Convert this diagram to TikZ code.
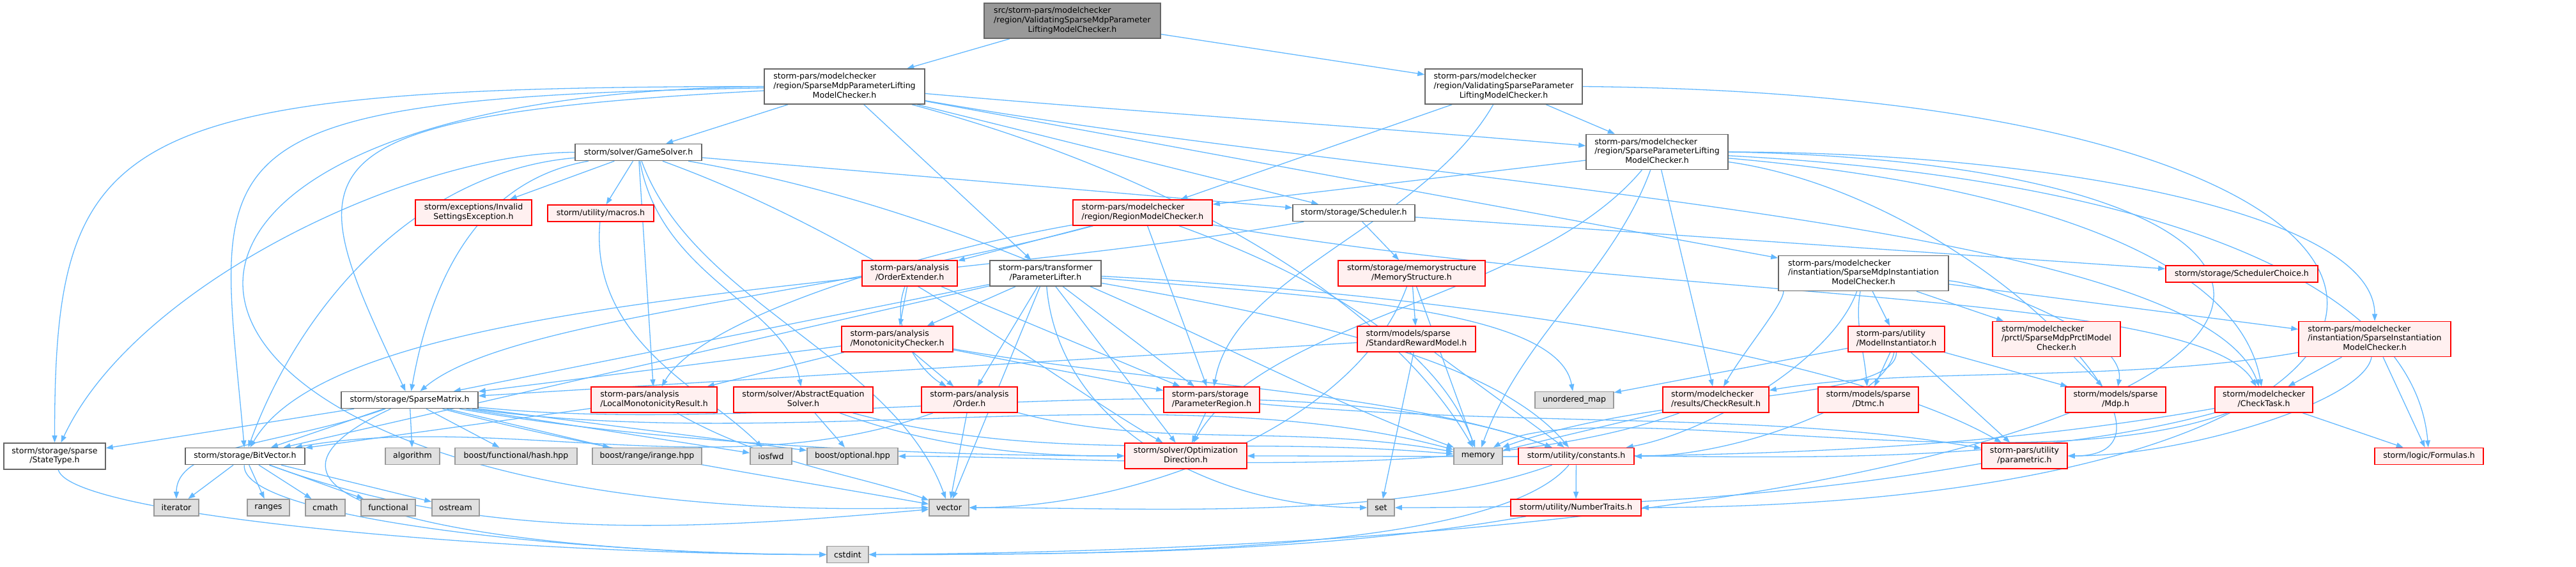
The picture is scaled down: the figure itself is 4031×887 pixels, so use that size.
\documentclass[tikz,border=0pt]{standalone}
\usepackage{fontspec}
\setmainfont{DejaVu Sans}
\usetikzlibrary{arrows.meta,backgrounds}
\definecolor{eblue}{HTML}{63B8FF}
\definecolor{ngray}{HTML}{666666}
\definecolor{sgray}{HTML}{999999}
\definecolor{sfill}{HTML}{E0E0E0}
\definecolor{rfill}{HTML}{FFF0F0}
\definecolor{rootfill}{HTML}{999999}
\newcommand{\lab}[2]{\begin{tabular}{@{}l@{}}#1\\\multicolumn{1}{@{}c@{}}{#2}\end{tabular}}
\renewcommand{\arraystretch}{1}
\tikzset{
  base/.style={rectangle, inner sep=0pt, line width=1.6bp, align=center, text=black},
  wnode/.style={base, draw=ngray, fill=white},
  rnode/.style={base, draw=red, fill=rfill},
  snode/.style={base, draw=sgray, fill=sfill},
  rootnode/.style={base, draw=ngray, fill=rootfill},
  edge/.style={draw=eblue, line width=1.3bp, -{Triangle[length=11bp,width=8bp]}}
}
\newcommand{\nd}[6]{\node[#1, minimum width=#4bp, minimum height=#5bp] (#2) at (#3) {#6};}
\newcommand{\st}[2]{\draw[edge] (#1) -- (#2);}
\newcommand{\cv}[6]{\draw[edge] (#1) .. controls +(#2:#3) and +(#5:#6) .. (#4);}
\begin{document}
\begin{tikzpicture}[x=1bp,y=1bp,font=\fontsize{12.6}{15}\selectfont]
\useasboundingbox (0,0) rectangle (4031,-887);
% nodes
\nd{rootnode}{root}{1678,-32.5}{276}{55}{\lab{src/storm-pars/modelchecker\\/region/ValidatingSparseMdpParameter}{LiftingModelChecker.h}}
\nd{wnode}{A}{1321.5,-135.5}{251}{55}{\lab{storm-pars/modelchecker\\/region/SparseMdpParameterLifting}{ModelChecker.h}}
\nd{wnode}{B}{2353,-135.5}{246}{55}{\lab{storm-pars/modelchecker\\/region/ValidatingSparseParameter}{LiftingModelChecker.h}}
\nd{wnode}{C}{2593,-238}{222}{55}{\lab{storm-pars/modelchecker\\/region/SparseParameterLifting}{ModelChecker.h}}
\nd{wnode}{GS}{999,-238.5}{198}{26}{storm/solver/GameSolver.h}
\nd{rnode}{ISE}{741,-333}{182}{40}{\lab{storm/exceptions/Invalid}{SettingsException.h}}
\nd{rnode}{MAC}{940,-334}{166}{26}{storm/utility/macros.h}
\nd{rnode}{RMC}{1788,-333}{218}{40}{\lab{storm-pars/modelchecker}{/region/RegionModelChecker.h}}
\nd{wnode}{SCH}{2118.5,-333.5}{191}{26}{storm/storage/Scheduler.h}
\nd{wnode}{SMIMC}{2916,-428}{266}{55}{\lab{storm-pars/modelchecker\\/instantiation/SparseMdpInstantiation}{ModelChecker.h}}
\nd{rnode}{SC}{3508,-429}{238}{26}{storm/storage/SchedulerChoice.h}
\nd{rnode}{OE}{1423.5,-428}{149}{40}{\lab{storm-pars/analysis}{/OrderExtender.h}}
\nd{wnode}{PL}{1636,-428}{174}{40}{\lab{storm-pars/transformer}{/ParameterLifter.h}}
\nd{rnode}{MS}{2209,-428}{230}{40}{\lab{storm/storage/memorystructure}{/MemoryStructure.h}}
\nd{rnode}{MC}{1404,-531}{174}{40}{\lab{storm-pars/analysis}{/MonotonicityChecker.h}}
\nd{rnode}{SRM}{2216.5,-531}{185}{40}{\lab{storm/models/sparse}{/StandardRewardModel.h}}
\nd{rnode}{MI}{2967.5,-531}{151}{40}{\lab{storm-pars/utility}{/ModelInstantiator.h}}
\nd{rnode}{SMPMC}{3218,-531}{200}{55}{\lab{storm/modelchecker\\/prctl/SparseMdpPrctlModel}{Checker.h}}
\nd{rnode}{SIMC}{3716,-531}{238}{55}{\lab{storm-pars/modelchecker\\/instantiation/SparseInstantiation}{ModelChecker.h}}
\nd{wnode}{SM}{641,-626.5}{214}{26}{storm/storage/SparseMatrix.h}
\nd{rnode}{LMR}{1023.5,-626}{197}{40}{\lab{storm-pars/analysis}{/LocalMonotonicityResult.h}}
\nd{rnode}{AES}{1257,-626}{218}{40}{\lab{storm/solver/AbstractEquation}{Solver.h}}
\nd{rnode}{ORD}{1517,-626}{150}{40}{\lab{storm-pars/analysis}{/Order.h}}
\nd{rnode}{PR}{1896,-626}{150}{40}{\lab{storm-pars/storage}{/ParameterRegion.h}}
\nd{snode}{UM}{2463.5,-626.5}{123}{26}{unordered\_map}
\nd{rnode}{CR}{2685,-626}{166}{40}{\lab{storm/modelchecker}{/results/CheckResult.h}}
\nd{rnode}{DTMC}{2923.5,-626}{157}{40}{\lab{storm/models/sparse}{/Dtmc.h}}
\nd{rnode}{MDP}{3310.5,-626}{157}{40}{\lab{storm/models/sparse}{/Mdp.h}}
\nd{rnode}{CT}{3542.5,-626}{153}{40}{\lab{storm/modelchecker}{/CheckTask.h}}
\nd{wnode}{ST}{85.5,-714.5}{159}{41}{\lab{storm/storage/sparse}{/StateType.h}}
\nd{wnode}{BV}{383.5,-714.5}{187}{26}{storm/storage/BitVector.h}
\nd{snode}{ALG}{645.5,-714.5}{85}{26}{algorithm}
\nd{snode}{HASH}{807.5,-714.5}{191}{26}{boost/functional/hash.hpp}
\nd{snode}{IRANGE}{1012.5,-714.5}{171}{26}{boost/range/irange.hpp}
\nd{snode}{IOSFWD}{1206.5,-714.5}{65}{26}{iosfwd}
\nd{snode}{OPT}{1334,-714.5}{142}{26}{boost/optional.hpp}
\nd{rnode}{OD}{1855.5,-714}{191}{40}{\lab{storm/solver/Optimization}{Direction.h}}
\nd{snode}{MEM}{2313,-714.5}{76}{26}{memory}
\nd{rnode}{CONST}{2466.5,-714.5}{181}{26}{storm/utility/constants.h}
\nd{rnode}{PARAM}{3168,-714}{134}{40}{\lab{storm-pars/utility}{/parametric.h}}
\nd{rnode}{FORM}{3801,-714.5}{170}{26}{storm/logic/Formulas.h}
\nd{snode}{ITER}{276,-795}{70}{26}{iterator}
\nd{snode}{RANGES}{420,-795}{66}{26}{ranges}
\nd{snode}{CMATH}{509,-795}{62}{26}{cmath}
\nd{snode}{FUNC}{607.5,-795}{85}{26}{functional}
\nd{snode}{OSTREAM}{713,-795}{74}{26}{ostream}
\nd{snode}{VEC}{1485,-795}{62}{26}{vector}
\nd{snode}{SET}{2161,-795}{42}{26}{set}
\nd{rnode}{NT}{2466,-795}{204}{26}{storm/utility/NumberTraits.h}
\nd{snode}{CSTDINT}{1326.5,-868.5}{65}{26}{cstdint}
% edges
\begin{scope}[on background layer]
\st{root}{A}
\st{root}{B}
\st{A}{GS}
\st{A}{PL}
\st{A}{SCH}
\st{A}{SMIMC}
\cv{A}{-5}{450}{C}{175}{450}
\cv{A}{180}{1150}{ST}{90}{510}
\cv{A}{181}{1050}{BV}{95}{480}
\cv{A}{183}{900}{SM}{115}{400}
\draw[edge] (A.west) .. controls (0,-150) and (150,-830) .. (VEC.west);
\cv{A}{-15}{500}{MEM}{120}{300}
\cv{A}{-10}{900}{CT}{110}{300}
\st{B}{RMC}
\st{B}{C}
\cv{B}{-120}{250}{PR}{80}{200}
\draw[edge] (B.east) .. controls (4025,-150) and (4000,-790) .. (NT.east);
\st{C}{RMC}
\st{C}{CR}
\cv{C}{-130}{300}{OD}{60}{250}
\cv{C}{-5}{500}{CT}{100}{250}
\cv{C}{-3}{700}{FORM}{95}{300}
\cv{C}{-8}{500}{PARAM}{0}{300}
\cv{C}{0}{600}{SIMC}{90}{200}
\cv{C}{-110}{200}{MEM}{70}{200}
\draw[edge] (C.east) .. controls (3930,-260) and (3800,-850) .. (CSTDINT.east);
\st{GS}{ISE}
\st{GS}{MAC}
\st{GS}{SCH}
\st{GS}{LMR}
\cv{GS}{180}{350}{ST}{65}{300}
\cv{GS}{185}{350}{BV}{70}{250}
\cv{GS}{190}{250}{SM}{80}{200}
\cv{GS}{-80}{200}{AES}{100}{150}
\cv{GS}{-20}{400}{OD}{150}{250}
\cv{GS}{-70}{250}{VEC}{110}{250}
\cv{GS}{-10}{600}{MEM}{160}{400}
\cv{MAC}{-95}{200}{IOSFWD}{135}{150}
\st{RMC}{OE}
\st{RMC}{PR}
\cv{RMC}{190}{350}{LMR}{60}{150}
\cv{RMC}{195}{500}{SM}{40}{200}
\cv{RMC}{-10}{800}{CT}{120}{200}
\cv{RMC}{-20}{250}{MEM}{110}{200}
\st{SCH}{MS}
\st{SCH}{SC}
\cv{SCH}{190}{700}{BV}{60}{300}
\st{OE}{MC}
\st{OE}{PR}
\cv{OE}{-110}{100}{ORD}{150}{80}
\st{PL}{MC}
\st{PL}{ORD}
\st{PL}{VEC}
\st{PL}{OD}
\st{PL}{PR}
\st{PL}{SM}
\st{PL}{BV}
\cv{PL}{-5}{400}{UM}{100}{150}
\cv{PL}{-3}{700}{PARAM}{150}{300}
\cv{PL}{-10}{400}{CONST}{130}{200}
\cv{PL}{-85}{250}{SET}{180}{250}
\st{MC}{ORD}
\st{MC}{LMR}
\st{MC}{PR}
\st{MC}{SM}
\cv{MC}{-10}{400}{CONST}{160}{300}
\st{MS}{SRM}
\st{MS}{MEM}
\cv{MS}{-110}{250}{VEC}{0}{300}
\st{SRM}{SET}
\st{SRM}{CONST}
\st{SRM}{SM}
\st{SMIMC}{MI}
\st{SMIMC}{SMPMC}
\st{SMIMC}{SIMC}
\cv{SMIMC}{-5}{200}{MDP}{80}{100}
\cv{SMIMC}{-100}{80}{DTMC}{95}{80}
\cv{SMIMC}{190}{100}{CR}{60}{100}
\cv{SMIMC}{-110}{150}{CONST}{10}{200}
\st{MI}{DTMC}
\st{MI}{MDP}
\st{MI}{PARAM}
\st{MI}{UM}
\cv{MI}{-100}{100}{CONST}{0}{250}
\cv{MI}{-90}{100}{MEM}{20}{300}
\st{SMPMC}{MDP}
\st{SIMC}{CT}
\st{SIMC}{FORM}
\cv{SIMC}{-100}{100}{PARAM}{0}{250}
\cv{SIMC}{190}{400}{CR}{10}{300}
\st{CT}{FORM}
\cv{CT}{190}{600}{OD}{0}{600}
\cv{CT}{195}{400}{CONST}{0}{300}
\cv{CT}{200}{400}{MEM}{30}{200}
\st{CR}{MEM}
\cv{CR}{200}{400}{OPT}{0}{400}
\cv{PARAM}{190}{400}{SET}{0}{300}
\st{PR}{OD}
\cv{PR}{-5}{500}{PARAM}{170}{400}
\st{ORD}{VEC}
\cv{ORD}{-15}{300}{MEM}{170}{300}
\cv{ORD}{200}{400}{BV}{10}{400}
\st{LMR}{BV}
\cv{LMR}{-30}{200}{VEC}{160}{150}
\st{AES}{OPT}
\cv{AES}{-15}{400}{MEM}{175}{400}
\cv{AES}{-20}{250}{OD}{180}{200}
\st{SM}{ST}
\st{SM}{BV}
\st{SM}{ALG}
\st{SM}{HASH}
\st{SM}{IRANGE}
\st{SM}{IOSFWD}
\st{SM}{OPT}
\cv{SM}{200}{200}{ITER}{90}{100}
\cv{SM}{205}{400}{CSTDINT}{180}{500}
\cv{SM}{-15}{300}{VEC}{170}{300}
\cv{SM}{-8}{600}{MEM}{165}{500}
\cv{SM}{-6}{600}{CONST}{160}{500}
\cv{SM}{-10}{400}{OD}{180}{400}
\st{BV}{ITER}
\st{BV}{RANGES}
\st{BV}{CMATH}
\st{BV}{FUNC}
\st{BV}{OSTREAM}
\cv{BV}{-95}{100}{CSTDINT}{180}{400}
\cv{BV}{-20}{400}{VEC}{185}{400}
\cv{ST}{-75}{100}{CSTDINT}{180}{500}
\st{CONST}{NT}
\cv{CONST}{200}{300}{VEC}{0}{300}
\cv{CONST}{-130}{200}{CSTDINT}{0}{400}
\cv{NT}{190}{400}{CSTDINT}{0}{400}
\end{scope}
\end{tikzpicture}
\end{document}
